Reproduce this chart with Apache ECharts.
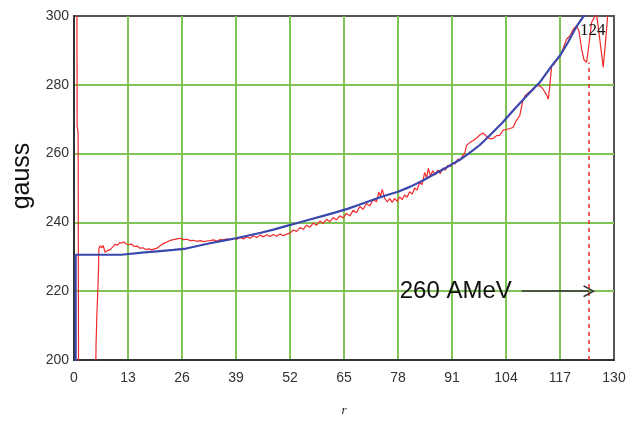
<!DOCTYPE html>
<html>
<head>
<meta charset="utf-8">
<style>
    html, body { margin: 0; padding: 0; background: #fff; }
    #chart { width: 632px; height: 422px; }
</style>
<script src="https://cdn.jsdelivr.net/npm/echarts@6/dist/echarts.min.js"></script>
</head>
<body>
<div id="chart"></div>
<script>
// measured field (red) as [r, gauss]
var measured = [
    [0.7, 310], [0.75, 268], [1.0, 266], [1.1, 190], [5.2, 190], [5.3, 204], [5.5, 213], [5.7, 219],
    [5.9, 226], [6.0, 232.4], [6.3, 233.2], [6.7, 232.6], [7.0, 233.3], [7.5, 231.3], [8.0, 231.8],
    [8.7, 232.1], [9.3, 232.8], [9.9, 233.6], [10.5, 233.4], [11.0, 234.1], [11.5, 234.0], [12.0, 234.3],
    [12.5, 233.8], [13.1, 233.5], [13.8, 233.7], [14.5, 233.0], [15.2, 233.1], [15.9, 232.5], [16.6, 232.6],
    [17.3, 232.1], [18.0, 232.3], [18.7, 232.0], [19.4, 232.3], [20.0, 232.5], [20.8, 233.3], [21.6, 233.9],
    [22.4, 234.3], [23.2, 234.8], [24.0, 235.0], [24.8, 235.2], [25.6, 235.4], [26.4, 235.0], [27.2, 235.1],
    [28.0, 234.7], [28.8, 234.8], [29.6, 234.5], [30.4, 234.7], [31.2, 234.4], [32.0, 234.6], [32.8, 234.7],
    [33.6, 234.9], [34.4, 234.6], [35.2, 235.0], [36.0, 234.9], [36.8, 235.2], [37.6, 235.0], [38.4, 235.4],
    [39.2, 235.1], [40.0, 235.6], [40.8, 235.2], [41.6, 235.8], [42.4, 235.4], [43.2, 236.1], [44.0, 235.6],
    [44.8, 236.3], [45.6, 235.8], [46.4, 236.4], [47.2, 235.9], [48.0, 236.5], [48.8, 236.0], [49.6, 236.6],
    [50.4, 236.1], [51.2, 236.6], [52.0, 236.9], [52.8, 237.8], [53.6, 237.4], [54.4, 238.5], [55.2, 238.0],
    [56.0, 239.2], [56.8, 238.6], [57.6, 239.8], [58.4, 239.2], [59.2, 240.4], [60.0, 239.7], [60.8, 240.9],
    [61.6, 240.2], [62.4, 241.4], [63.2, 240.7], [64.0, 241.9], [64.8, 241.3], [65.6, 242.6], [66.4, 241.9],
    [67.2, 243.5], [68.0, 242.8], [68.8, 244.6], [69.6, 243.8], [70.4, 245.5], [71.2, 244.8], [72.0, 246.6],
    [72.8, 246.0], [73.4, 248.8], [73.8, 247.5], [74.2, 249.6], [74.8, 247.0], [75.4, 246.0], [76.0, 246.9],
    [76.6, 245.8], [77.2, 247.0], [77.8, 246.1], [78.4, 247.4], [79.0, 246.6], [79.6, 248.0], [80.2, 247.3],
    [80.8, 248.9], [81.4, 248.2], [82.0, 250.0], [82.6, 249.4], [83.2, 251.6], [83.8, 251.0], [84.4, 254.5],
    [84.9, 253.0], [85.3, 255.7], [85.8, 253.6], [86.4, 255.0], [87.0, 253.8], [87.6, 255.2], [88.2, 254.2],
    [88.8, 255.8], [89.4, 255.2], [90.0, 256.6], [90.6, 256.2], [91.2, 257.4], [91.8, 257.0], [92.4, 258.4],
    [93.0, 258.1], [93.6, 259.4], [94.1, 260.2], [94.5, 262.4], [95.3, 263.2], [96.1, 263.8], [97.0, 264.6],
    [97.7, 265.4], [98.5, 266.0], [99.3, 265.0], [100.1, 264.3], [100.9, 264.4], [101.7, 265.2], [102.5, 265.3],
    [103.3, 266.8], [104.1, 267.0], [104.9, 267.3], [105.7, 267.6], [106.5, 269.6], [107.3, 271.0], [108.0, 275.2],
    [108.6, 276.8], [109.4, 277.7], [110.2, 278.5], [111.0, 279.5], [111.8, 279.8], [112.6, 279.3], [113.2, 278.2],
    [113.8, 277.0], [114.2, 275.8], [114.6, 280.5], [115.0, 285.5], [115.6, 286.0], [116.2, 287.2], [117.0, 288.2],
    [117.8, 290.8], [118.6, 293.3], [119.4, 294.2], [120.2, 296.2], [121.0, 297.2], [121.6, 295.4], [122.2, 290.4],
    [122.8, 287.2], [123.4, 286.5], [124.0, 292.0], [124.6, 298.1], [125.2, 299.5], [125.8, 300.5], [126.6, 293.0],
    [127.4, 285.1], [128.0, 293.0], [128.6, 302]
];

// fitted field (blue)
var fitted = [
    [0.4, 190], [0.4, 230.6], [11.4, 230.6], [11.6, 231.0], [17, 231.3], [20, 231.6], [24, 232.0], [27, 232.4],
    [30, 233.2], [33, 234.0], [36, 234.7], [39, 235.4], [42, 236.2], [45, 237.0], [48, 237.9], [51, 238.9],
    [54, 239.9], [57, 240.9], [60, 241.9], [63, 242.9], [66, 244.0], [69, 245.3], [72, 246.6], [75, 247.8],
    [78, 248.9], [81, 250.4], [84, 252.2], [87, 254.2], [90, 256.2], [93, 258.3], [95, 260.0], [97.7, 262.5],
    [100, 265.2], [103, 268.8], [106, 272.9], [109, 276.8], [112, 280.5], [115, 285.5], [117, 288.5],
    [119, 292.5], [121, 297.0], [123, 300.5]
];

// annotations
var markR = 124;          // dashed marker position
var markTop = 286.5;
var arrowFrom = [107.8, 220];
var arrowText = '260 AMeV';
var markLabelAt = [124.9, 295.8];

var gridGreen = '#80c455';
var tickFont = "'Liberation Sans', Arial, sans-serif";

var myChart = echarts.init(document.getElementById('chart'));
myChart.setOption({
    animation: false,
    grid: {
        left: 74,
        right: 18,
        top: 16,
        bottom: 61,
        show: true,
        borderColor: '#555',
        borderWidth: 2
    },
    xAxis: {
        type: 'value',
        min: 0,
        max: 130,
        interval: 13,
        name: 'r',
        nameLocation: 'middle',
        nameGap: 44,
        nameTextStyle: { fontFamily: "'Liberation Serif', serif", fontStyle: 'italic', fontSize: 13, color: '#222' },
        axisLine: { show: true, lineStyle: { color: '#333', width: 2 } },
        axisTick: { show: false },
        axisLabel: { margin: 11, fontFamily: tickFont, fontSize: 14, color: '#333' },
        splitLine: { show: true, showMinLine: false, showMaxLine: false, lineStyle: { color: gridGreen, width: 2 } }
    },
    yAxis: {
        type: 'value',
        min: 200,
        max: 300,
        interval: 20,
        name: 'gauss',
        nameLocation: 'middle',
        nameGap: 32,
        nameTextStyle: {
            fontFamily: "'Liberation Sans', Arial, sans-serif",
            fontSize: 25,
            color: '#111',
            padding: [0, 0, 0, 24]
        },
        axisLine: { show: true, lineStyle: { color: '#333', width: 2 } },
        axisTick: { show: false },
        axisLabel: { margin: 5, fontFamily: tickFont, fontSize: 14, color: '#333' },
        splitLine: { show: true, showMinLine: false, showMaxLine: false, lineStyle: { color: gridGreen, width: 2 } }
    },
    series: [
        {
            name: 'measured',
            type: 'line',
            data: measured,
            showSymbol: false,
            clip: true,
            lineStyle: { color: '#f02a2a', width: 1.2 },
            z: 3,
            markLine: {
                silent: true,
                symbol: ['none', 'none'],
                label: { show: false },
                lineStyle: { color: '#f02a2a', width: 1.5, type: [4, 4] },
                data: [
                    [{ coord: [markR, 200] }, { coord: [markR, markTop] }]
                ]
            },
            markPoint: {
                silent: true,
                symbol: 'circle',
                symbolSize: 0,
                label: {
                    show: true,
                    position: 'inside',
                    formatter: '124',
                    fontFamily: "'Liberation Serif', serif",
                    fontSize: 17,
                    color: '#111'
                },
                data: [{ coord: markLabelAt }]
            }
        },
        {
            name: 'fitted',
            type: 'line',
            data: fitted,
            showSymbol: false,
            clip: true,
            lineStyle: { color: '#3a48ad', width: 2.2 },
            z: 4,
            markLine: {
                silent: true,
                symbol: ['none', 'path://M0,0L6,9L4.8,9.8L0,2.6L-4.8,9.8L-6,9Z'],
                symbolSize: [12, 12],
                lineStyle: { color: '#333', width: 1.5, type: 'solid' },
                label: {
                    show: true,
                    position: 'start',
                    distance: 10,
                    formatter: arrowText,
                    fontFamily: tickFont,
                    fontSize: 24,
                    color: '#111'
                },
                data: [
                    [{ coord: arrowFrom }, { coord: [markR, 220] }]
                ]
            }
        }
    ]
});
</script>
</body>
</html>
